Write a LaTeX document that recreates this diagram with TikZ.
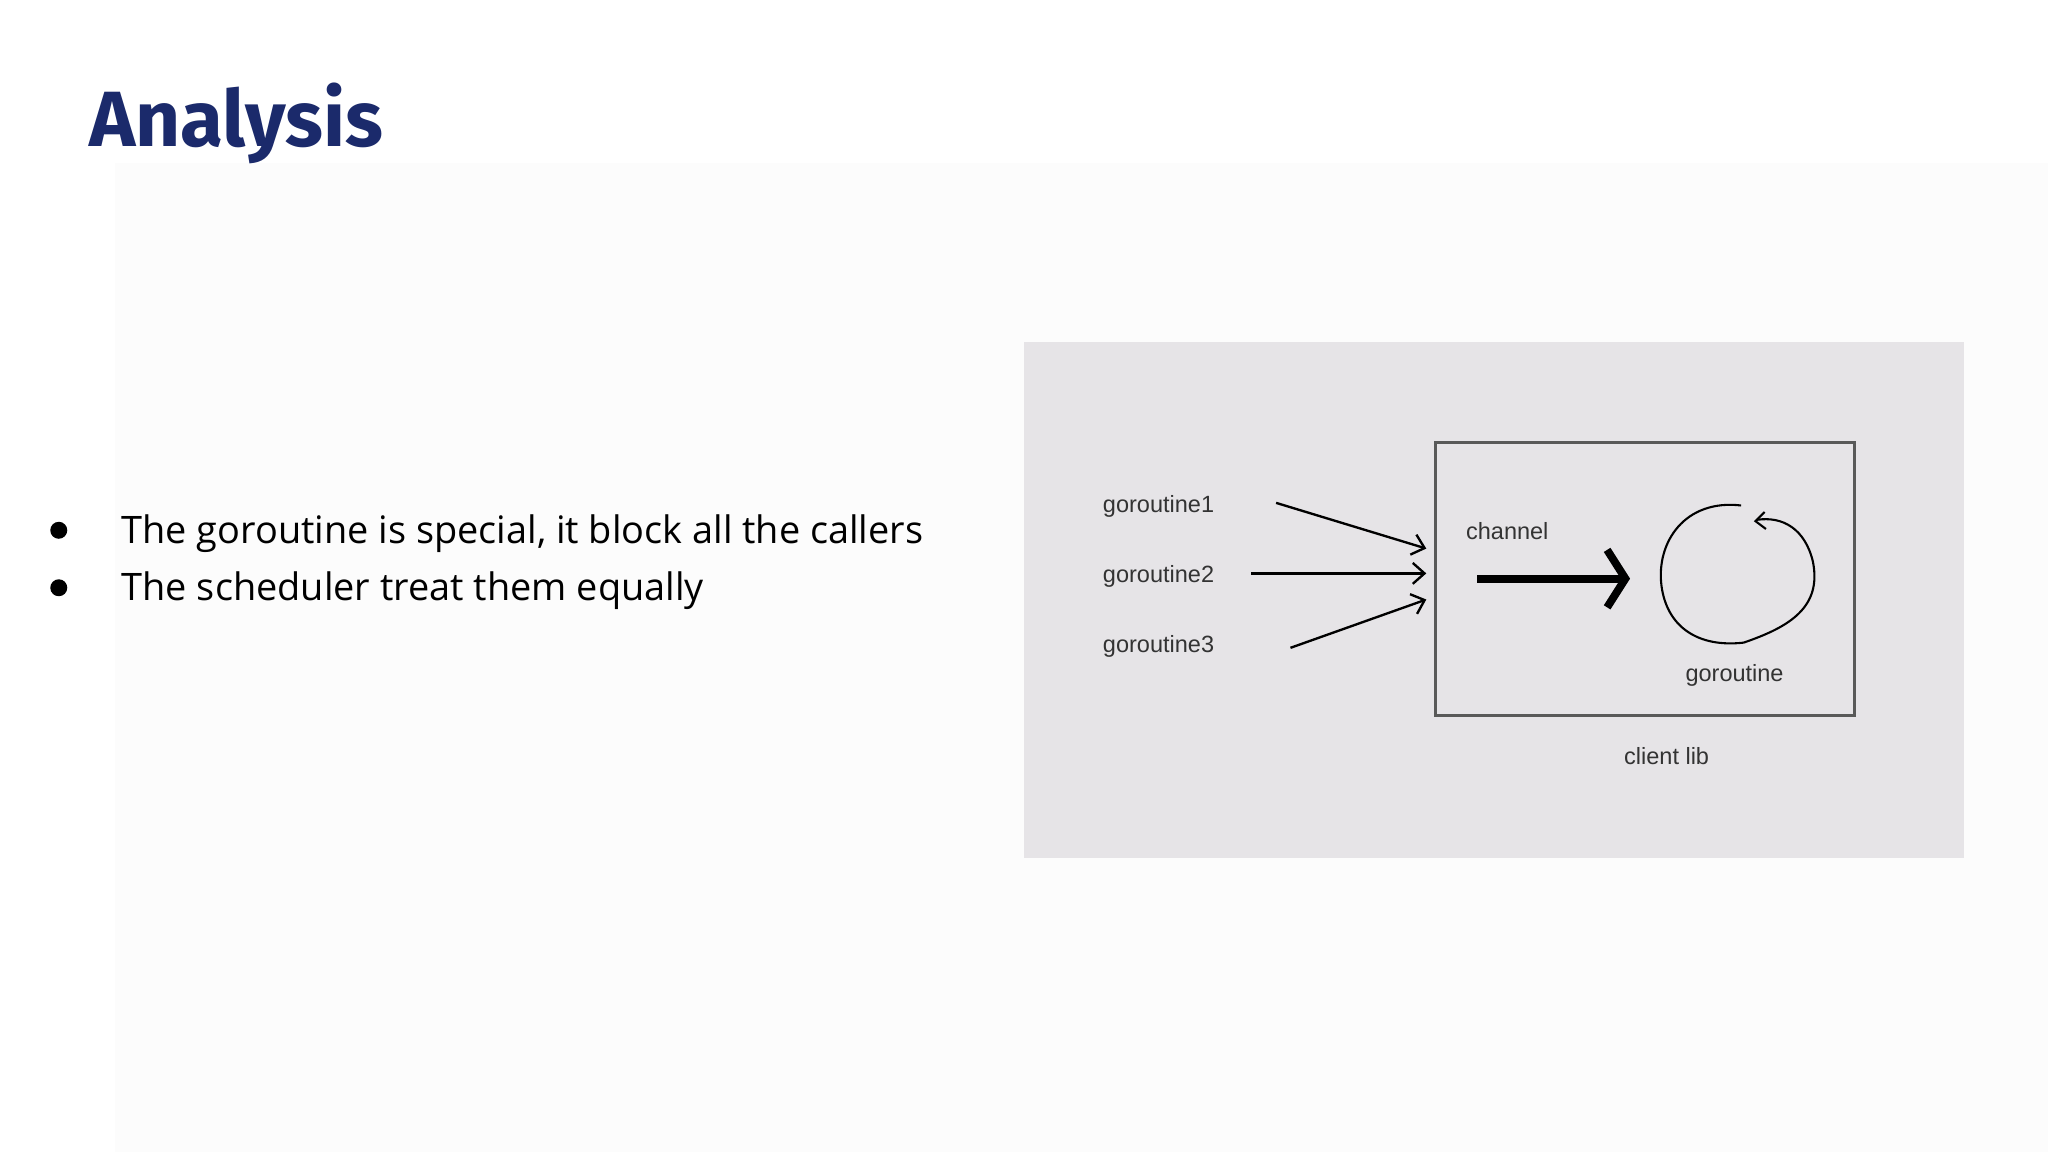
\documentclass[tikz,border=0pt]{standalone}
\usepackage{fontspec}
\setmainfont{Open Sans}
\newfontfamily\titlefont{Fira Sans}
\newfontfamily\lblfont{Liberation Sans}
\usetikzlibrary{arrows.meta}
\definecolor{navy}{HTML}{1B2A6B}
\definecolor{panel}{HTML}{E6E4E7}
\tikzset{
  lbl/.style={font=\lblfont\fontsize{18}{20}\selectfont, text=black!80},
  feed/.style={line width=1.8pt, -{Straight Barb[length=9pt,width=16pt,line width=1.8pt]}},
}
\begin{document}
\begin{tikzpicture}[x=1pt,y=-1pt]
\useasboundingbox (0,0) rectangle (1568,882);
\fill[white] (0,0) rectangle (1568,882);
\fill[black!1] (88,125) rectangle (1568,882);
\node[anchor=base west, inner sep=0, text=navy, font=\titlefont\bfseries\fontsize{60}{70}\selectfont] (title) at (68,112) {Analysis};
\node[anchor=base west, inner sep=0, font=\fontsize{29}{34}\selectfont] (b1) at (93,416) {The goroutine is special, it block all the callers};
\node[anchor=base west, inner sep=0, font=\fontsize{29}{34}\selectfont] (b2) at (93,460) {The scheduler treat them equally};
\fill (45,406) circle (6.5);
\fill (45,450) circle (6.5);
\fill[panel] (784,262) rectangle (1504,657);
\draw[line width=2.5pt, black!65] (1099,339) rectangle (1420,548);
\node[lbl] (g1) at (887,388) {goroutine1};
\node[lbl] (g2) at (887,441) {goroutine2};
\node[lbl] (g3) at (887,495) {goroutine3};
\coordinate (s1) at (977,385);
\coordinate (s2) at (958,439);
\coordinate (s3) at (988,496);
\coordinate (t1) at (1092,420);
\coordinate (t2) at (1092,439);
\coordinate (t3) at (1092,459);
\draw[feed] (s1) -- (t1);
\draw[feed] (s2) -- (t2);
\draw[feed] (s3) -- (t3);
\node[lbl] (ch) at (1154,407) {channel};
\coordinate (c1) at (1131,443);
\coordinate (c2) at (1248,443);
\draw[line width=6pt, -{Straight Barb[length=14pt,width=44pt,line width=6pt]}] (c1) -- (c2);
\draw[line width=1.6pt] (1333,387) .. controls (1290,382) and (1268,415) .. (1272,448)
  .. controls (1276,480) and (1300,496) .. (1335,492)
  .. controls (1370,480) and (1395,465) .. (1388,430)
  .. controls (1382,405) and (1365,395) .. (1345,398);
\draw[line width=1.6pt] (1351,392) -- (1344,399) -- (1352,405);
\node[lbl] (gr) at (1328,517) {goroutine};
\node[lbl] (cl) at (1276,579) {client lib};
\end{tikzpicture}
\end{document}
